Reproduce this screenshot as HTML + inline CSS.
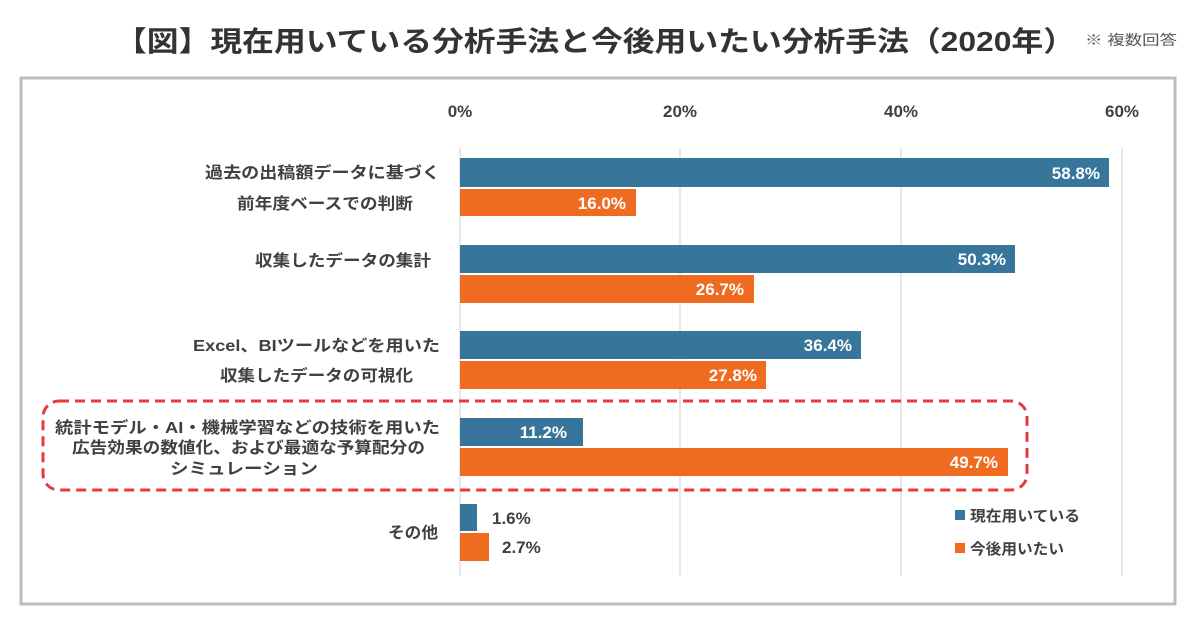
<!DOCTYPE html>
<html><head><meta charset="utf-8"><style>
html,body{margin:0;padding:0;background:#fff;}
svg{display:block;}
text{font-family:"Liberation Sans","Noto Sans CJK JP",sans-serif;}
</style></head><body>
<svg width="1200" height="630" viewBox="0 0 1200 630" xmlns="http://www.w3.org/2000/svg">
<rect x="0" y="0" width="1200" height="630" fill="#fff"/>
<text x="115" y="51" font-size="28" font-weight="bold" fill="#333" textLength="960" lengthAdjust="spacingAndGlyphs">【図】現在用いている分析手法と今後用いたい分析手法（2020年）</text>
<text x="1085" y="45" font-size="14" fill="#555" textLength="92" lengthAdjust="spacingAndGlyphs">※ 複数回答</text>
<rect x="21" y="78" width="1154" height="526" fill="none" stroke="#bdbdbd" stroke-width="3"/>
<g stroke="#e0e0e0" stroke-width="1.5">
<line x1="460" y1="148" x2="460" y2="576"/>
<line x1="680" y1="148" x2="680" y2="576"/>
<line x1="901" y1="148" x2="901" y2="576"/>
<line x1="1122" y1="148" x2="1122" y2="576"/>
</g>
<g font-size="17" font-weight="bold" fill="#404040" text-anchor="middle">
<text x="460" y="117">0%</text><text x="680" y="117">20%</text><text x="901" y="117">40%</text><text x="1122" y="117">60%</text>
</g>
<g fill="#38759a">
<rect x="460" y="158" width="649" height="29"/>
<rect x="460" y="245" width="555" height="28"/>
<rect x="460" y="331" width="401" height="28"/>
<rect x="460" y="418" width="123" height="28"/>
<rect x="460" y="504" width="17" height="27"/>
</g>
<g fill="#ee6b20">
<rect x="460" y="189" width="176" height="27"/>
<rect x="460" y="275" width="294" height="28"/>
<rect x="460" y="361" width="306" height="28"/>
<rect x="460" y="448" width="548" height="28"/>
<rect x="460" y="533" width="29" height="28"/>
</g>
<g font-size="17" font-weight="bold" fill="#fff" text-anchor="end">
<text x="1100" y="179">58.8%</text>
<text x="626" y="209">16.0%</text>
<text x="1006" y="265">50.3%</text>
<text x="744" y="295">26.7%</text>
<text x="852" y="351">36.4%</text>
<text x="757" y="381">27.8%</text>
<text x="567" y="438">11.2%</text>
<text x="998" y="468">49.7%</text>
</g>
<g font-size="17" font-weight="bold" fill="#404040">
<text x="492" y="524">1.6%</text>
<text x="502" y="553">2.7%</text>
</g>
<g font-size="16" font-weight="bold" fill="#404040">
<text x="205" y="178" textLength="235" lengthAdjust="spacingAndGlyphs">過去の出稿額データに基づく</text>
<text x="237" y="209" textLength="176" lengthAdjust="spacingAndGlyphs">前年度ベースでの判断</text>
<text x="255" y="266" textLength="176" lengthAdjust="spacingAndGlyphs">収集したデータの集計</text>
<text x="193" y="351" textLength="247" lengthAdjust="spacingAndGlyphs">Excel、BIツールなどを用いた</text>
<text x="220" y="381" textLength="193" lengthAdjust="spacingAndGlyphs">収集したデータの可視化</text>
<text x="388" y="538" textLength="50" lengthAdjust="spacingAndGlyphs">その他</text>
<text x="55" y="433" textLength="385" lengthAdjust="spacingAndGlyphs">統計モデル・AI・機械学習などの技術を用いた</text>
<text x="72" y="453" textLength="353" lengthAdjust="spacingAndGlyphs">広告効果の数値化、および最適な予算配分の</text>
<text x="170" y="474" textLength="148" lengthAdjust="spacingAndGlyphs">シミュレーション</text>
</g>
<rect x="43" y="401" width="984" height="89" rx="16" ry="16" fill="none" stroke="#e8383a" stroke-width="3" stroke-dasharray="10,6"/>
<rect x="955" y="510" width="10" height="10" fill="#38759a"/>
<text x="970" y="521" font-size="15" font-weight="bold" fill="#404040" textLength="110" lengthAdjust="spacingAndGlyphs">現在用いている</text>
<rect x="955" y="543" width="10" height="10" fill="#ee6b20"/>
<text x="970" y="554" font-size="15" font-weight="bold" fill="#404040" textLength="94" lengthAdjust="spacingAndGlyphs">今後用いたい</text>
</svg>
</body></html>
